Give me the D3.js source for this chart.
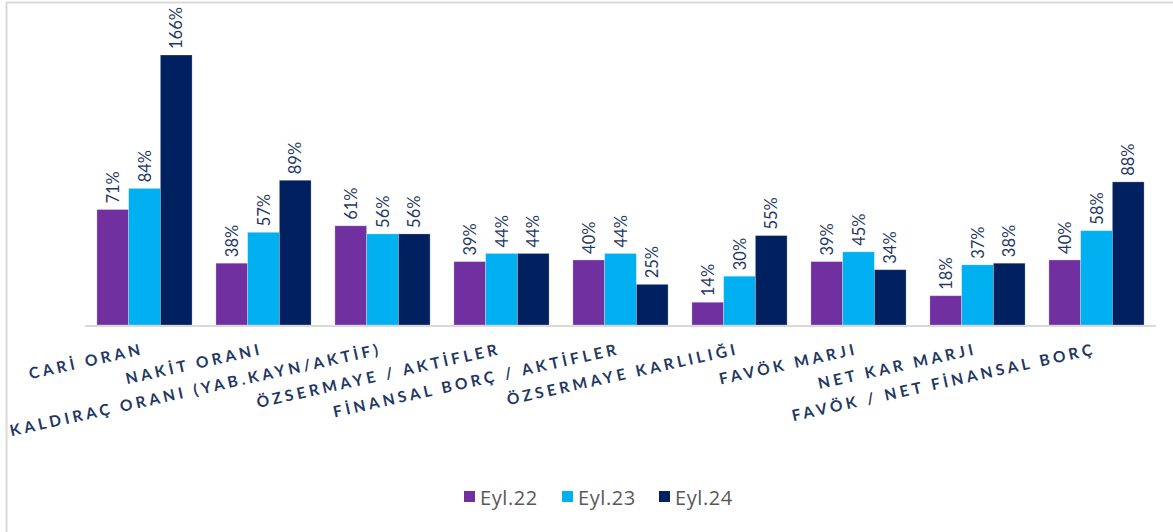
<!DOCTYPE html>
<html><head><meta charset="utf-8">
<script src="https://cdn.jsdelivr.net/npm/d3@7/dist/d3.min.js"></script>
<style>html,body{margin:0;padding:0;background:#fff;}svg{display:block;}</style>
</head><body>
<script>
const categories = ["CARİ ORAN","NAKİT ORANI","KALDIRAÇ ORANI (YAB.KAYN/AKTİF)","ÖZSERMAYE / AKTİFLER","FİNANSAL BORÇ / AKTİFLER","ÖZSERMAYE KARLILIĞI","FAVÖK MARJI","NET KAR MARJI","FAVÖK / NET FİNANSAL BORÇ"];
const seriesNames = ["Eyl.22","Eyl.23","Eyl.24"];
const eyl22 = [71,38,61,39,40,14,39,18,40];
const eyl23 = [84,57,56,44,44,30,45,37,58];
const eyl24 = [166,89,56,44,25,55,34,38,88];
const colors = ["#7030A0","#00B0F0","#002060"];
const seriesValues = [eyl22, eyl23, eyl24];

const W = 1173, H = 532;
const svg = d3.select("body").append("svg").attr("width", W).attr("height", H);

// frame
svg.append("line").attr("x1",6.5).attr("x2",W).attr("y1",2.5).attr("y2",2.5).attr("stroke","#d9d9d9").attr("stroke-width",2);
svg.append("line").attr("x1",6.5).attr("x2",6.5).attr("y1",2).attr("y2",H).attr("stroke","#d9d9d9").attr("stroke-width",2);

const x0 = d3.scaleBand().domain(categories).range([85,1156]).paddingInner(0.2).paddingOuter(0.1);
const x1 = d3.scaleBand().domain(seriesNames).range([0, x0.bandwidth()]);
const y = d3.scaleLinear().domain([0,166]).range([325,55]);

const data = categories.map((c,i)=>({cat:c, vals: seriesNames.map((s,j)=>({s, v: seriesValues[j][i], j}))}));

const g = svg.append("g");
const grp = g.selectAll("g.grp").data(data).enter().append("g").attr("transform", d=>`translate(${x0(d.cat)},0)`);
grp.selectAll("rect").data(d=>d.vals).enter().append("rect")
  .attr("x", d=>x1(d.s)).attr("width", x1.bandwidth())
  .attr("y", d=>y(d.v)).attr("height", d=>y(0)-y(d.v))
  .attr("fill", d=>colors[d.j]).attr("stroke","#ffffff").attr("stroke-opacity",0.35).attr("stroke-width",0.8);

grp.selectAll("text").data(d=>d.vals).enter().append("text")
  .attr("transform", d=>`translate(${x1(d.s)+x1.bandwidth()/2},${y(d.v)-6}) rotate(-90)`)
  .attr("dominant-baseline","central")
  .attr("text-anchor","start")
  .attr("font-family","Lato, 'Open Sans', sans-serif").attr("font-size",16.5)
  .attr("fill","#1F3864")
  .text(d=>d.v+"%");

// axis line
svg.append("line").attr("x1",85).attr("x2",1156).attr("y1",326).attr("y2",326).attr("stroke","#d9d9d9").attr("stroke-width",2);

// category labels via axis
const axis = d3.axisBottom(x0).tickSize(0).tickPadding(0);
const ax = svg.append("g").call(axis);
ax.select(".domain").remove();
ax.selectAll(".tick text")
  .attr("transform","translate(0,354) rotate(-12.5)")
  .attr("y",0).attr("dy",0)
  .attr("text-anchor","end")
  .attr("font-family","Lato, 'Open Sans', sans-serif").attr("font-size",15.5).attr("font-weight","bold")
  .attr("letter-spacing","3.6px")
  .attr("fill","#1F3864");

// legend
const legX = [464, 562, 659];
const leg = svg.append("g");
seriesNames.forEach((s,i)=>{
  leg.append("rect").attr("x",legX[i]).attr("y",491).attr("width",11).attr("height",11).attr("fill",colors[i]);
  leg.append("text").attr("x",legX[i]+16).attr("y",497).attr("dominant-baseline","central")
    .attr("font-family","'Open Sans', sans-serif").attr("font-size",20).attr("letter-spacing","0.6px").attr("fill","#595959").text(s);
});
</script>
</body></html>
